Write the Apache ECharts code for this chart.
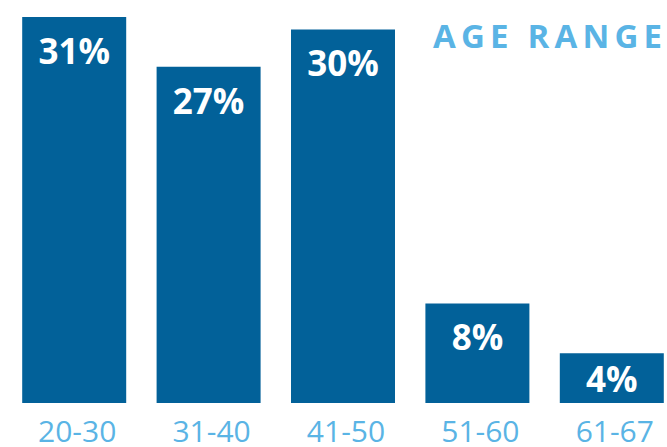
<!DOCTYPE html>
<html><head><meta charset="utf-8">
<script src="https://cdn.jsdelivr.net/npm/echarts@6/dist/echarts.min.js"></script>
<style>html,body{margin:0;padding:0;background:#fff;overflow:hidden}#c{width:680px;height:447px}</style>
</head><body><div id="c"></div>
<script>
const categories = ["20-30", "31-40", "41-50", "51-60", "61-67"];
const values = [31, 27, 30, 8, 4];
const titleText = "AGE RANGE";

const chart = echarts.init(document.getElementById('c'), null, {renderer: 'svg'});
const data = values.map((v, i) => ({
  value: v,
  label: v < 6 ? {position: 'inside'} : {position: 'insideTop', distance: 16}
}));
chart.setOption({
  animation: false,
  title: {
    text: titleText, left: 433, top: 19, padding: 0,
    textStyle: {fontFamily: 'Open Sans', fontWeight: 'bold', fontSize: 33, color: '#5AB4E5'}
  },
  grid: {left: 7, top: 17, width: 672, bottom: 44, containLabel: false},
  xAxis: {
    type: 'category', data: categories,
    axisLine: {show: false}, axisTick: {show: false},
    axisLabel: {fontFamily: 'Open Sans', fontSize: 30, lineHeight: 26, color: '#5AB4E5', margin: 14, padding: [0, 0, 0, 6]}
  },
  yAxis: {type: 'value', min: 0, max: 31, show: false, splitLine: {show: false}},
  series: [{
    type: 'bar', data: data, barWidth: 104,
    itemStyle: {color: '#026199'},
    label: {show: true, formatter: '{c}%', fontFamily: 'Open Sans', fontWeight: 'bold', fontSize: 35, lineHeight: 35, color: '#ffffff'}
  }]
});
function spaceTitle(){
  document.querySelectorAll('#c svg text').forEach(t => {
    if (t.textContent === titleText) t.setAttribute('letter-spacing', '5.2');
  });
}
spaceTitle();
chart.on('finished', spaceTitle);
</script></body></html>
